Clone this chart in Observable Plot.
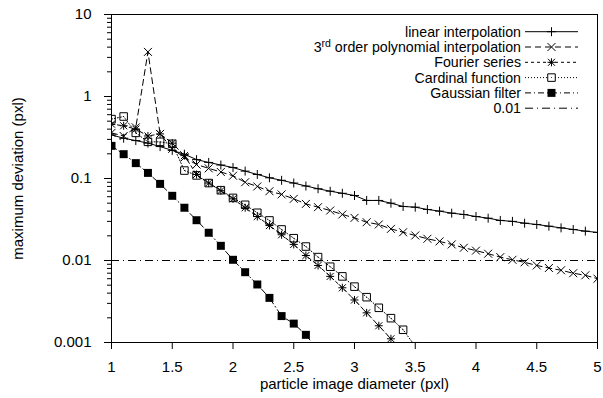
<!DOCTYPE html>
<html>
<head>
<meta charset="utf-8">
<script src="https://cdn.jsdelivr.net/npm/d3@7"></script>
<script src="https://cdn.jsdelivr.net/npm/@observablehq/plot@0.6"></script>
<style>
  html, body { margin: 0; padding: 0; background: #fff; }
  #chart svg { display: block; }
</style>
</head>
<body>
<div id="chart"></div>
<script>
// Particle image diameter (pxl), sampled every 0.1 pxl
const diameter = [1.0, 1.1, 1.2, 1.3, 1.4, 1.5, 1.6, 1.7, 1.8, 1.9,
                  2.0, 2.1, 2.2, 2.3, 2.4, 2.5, 2.6, 2.7, 2.8, 2.9,
                  3.0, 3.1, 3.2, 3.3, 3.4, 3.5, 3.6, 3.7, 3.8, 3.9,
                  4.0, 4.1, 4.2, 4.3, 4.4, 4.5, 4.6, 4.7, 4.8, 4.9, 5.0];

// Maximum deviation (pxl) for each interpolation scheme
const linearInterp = [0.34, 0.31, 0.29, 0.27, 0.245, 0.22, 0.198, 0.17, 0.157, 0.146,
                      0.136, 0.123, 0.112, 0.102, 0.095, 0.088, 0.081, 0.075, 0.070, 0.066,
                      0.062, 0.054, 0.054, 0.050, 0.0456, 0.0447, 0.0419, 0.040, 0.0378, 0.0364,
                      0.0344, 0.0328, 0.0308, 0.030, 0.0285, 0.0275, 0.0262, 0.025, 0.0239, 0.0228, 0.022];

const polyInterp3 = [0.36, 0.33, 0.42, 3.5, 0.35, 0.23, 0.18, 0.148, 0.133, 0.12,
                     0.108, 0.090, 0.080, 0.070, 0.064, 0.0565, 0.049, 0.0447, 0.0407, 0.0364,
                     0.0331, 0.0293, 0.0275, 0.0243, 0.0221, 0.0202, 0.0184, 0.0171, 0.0157, 0.0143,
                     0.0132, 0.0121, 0.011, 0.0102, 0.0095, 0.0087, 0.0081, 0.0076, 0.0070, 0.0066, 0.0060];

const fourierSeries = [0.46, 0.44, 0.40, 0.33, 0.35, 0.27, 0.19, 0.112, 0.088, 0.071,
                       0.0565, 0.044, 0.0344, 0.0267, 0.0206, 0.0157, 0.0115, 0.0087, 0.0064, 0.00465,
                       0.0033, 0.0023, 0.0016, 0.00111, 0.0007];

const cardinalFunction = [0.53, 0.57, 0.36, 0.28, 0.28, 0.265, 0.125, 0.109, 0.088, 0.072,
                          0.058, 0.0478, 0.0382, 0.0308, 0.0239, 0.0187, 0.0148, 0.011, 0.0084, 0.0064,
                          0.0048, 0.00357, 0.00265, 0.00198, 0.00143, 0.0009];

const gaussianFilter = [0.25, 0.198, 0.154, 0.117, 0.086, 0.0615, 0.044, 0.031, 0.0218, 0.0151,
                        0.0102, 0.0072, 0.0051, 0.0035, 0.0021, 0.0017, 0.00124, 0.0008];

const threshold = [0.01];

const seriesNames = ["linear interpolation", "3rd order polynomial interpolation", "Fourier series",
                     "Cardinal function", "Gaussian filter", "0.01"];

const xTicks = [1, 1.5, 2, 2.5, 3, 3.5, 4, 4.5, 5];
const xTickLabels = ["1", "1.5", "2", "2.5", "3", "3.5", "4", "4.5", "5"];
const yTicks = [0.001, 0.01, 0.1, 1, 10];
const yTickLabels = ["0.001", "0.01", "0.1", "1", "10"];
const yMinorTicks = [0.001, 0.01, 0.1, 1].flatMap(d => [2, 3, 4, 5, 6, 7, 8, 9].map(k => k * d));

const xLabel = "particle image diameter (pxl)";
const yLabel = "maximum deviation (pxl)";

const rows = values => values.map((v, i) => ({x: diameter[i], y: v}));

const FONT = "'Liberation Sans', Arial, Helvetica, sans-serif";

// line + symbol styling per scheme
const styles = [
  {data: linearInterp, dash: null, symbols: [{symbol: "plus", r: 3.0}]},
  {data: polyInterp3, dash: "6,4", symbols: [{symbol: "times", r: 3.7}]},
  {data: fourierSeries, dash: "3,3", symbols: [{symbol: "plus", r: 2.7}, {symbol: "times", r: 3.3}]},
  {data: cardinalFunction, dash: "1,2", symbols: [{symbol: "square2", r: 4.8}, {symbol: "circle", r: 0.5, fill: true}]},
  {data: gaussianFilter, dash: "6,3,1,3", symbols: [{symbol: "square", r: 4.5, fill: true}]}
];

const marks = [];
marks.push(Plot.ruleY(threshold, {stroke: "black", strokeWidth: 1, strokeDasharray: "8,4,1,4"}));
for (const s of styles) {
  const d = rows(s.data);
  marks.push(Plot.line(d, {x: "x", y: "y", stroke: "black", strokeWidth: 1,
                           strokeDasharray: s.dash, clip: true}));
  for (const m of s.symbols) {
    marks.push(Plot.dot(d, {x: "x", y: "y", symbol: m.symbol, r: m.r,
                            fill: m.fill ? "black" : "none", stroke: m.fill ? "none" : "black",
                            strokeWidth: 1, clip: true}));
  }
}

marks.push(
  Plot.axisX({ticks: xTicks, tickSize: 7, tickPadding: 12,
              tickFormat: d => xTickLabels[xTicks.indexOf(d)], label: null}),
  Plot.axisY({ticks: yTicks, tickSize: 7, tickPadding: 13,
              tickFormat: d => yTickLabels[yTicks.indexOf(d)], label: null}),
  Plot.axisY({ticks: yMinorTicks, tickSize: 4, tickFormat: () => "", label: null}),
  Plot.frame({stroke: "black", strokeWidth: 1}),
  Plot.text([xLabel], {frameAnchor: "bottom", dy: 42, textAnchor: "middle", lineAnchor: "middle"}),
  Plot.text([yLabel], {frameAnchor: "left", dx: -93, rotate: -90, textAnchor: "middle", lineAnchor: "middle"})
);

const chart = Plot.plot({
  width: 603,
  height: 398,
  marginLeft: 111,
  marginRight: 6,
  marginTop: 14,
  marginBottom: 56,
  style: {fontFamily: FONT, fontSize: "15px", background: "white", color: "black", overflow: "visible"},
  x: {domain: [1, 5], label: null},
  y: {type: "log", domain: [0.001, 10], label: null},
  marks
});

// legend in the upper right corner of the frame
const svg = d3.select(chart);
const legend = svg.append("g").attr("font-family", FONT).attr("font-size", 14.2);
const legendSymbols = [
  [{type: d3.symbolPlus, r: 3.0}],
  [{type: d3.symbolTimes, r: 3.7}],
  [{type: d3.symbolPlus, r: 2.7}, {type: d3.symbolTimes, r: 3.3}],
  [{type: d3.symbolSquare2, r: 4.8}, {type: d3.symbolCircle, r: 0.5, fill: true}],
  [{type: d3.symbolSquare, r: 4.5, fill: true}],
  []
];
const legendDash = [null, "6,4", "3,3", "1,2", "6,3,1,3", "8,4,1,4"];
seriesNames.forEach((name, i) => {
  const y = 31.7 + i * 15.3;
  const g = legend.append("g").attr("transform", `translate(0,${y})`);
  const t = g.append("text").attr("x", 521).attr("y", 0).attr("dy", "0.35em").attr("text-anchor", "end");
  if (i === 1) {
    t.append("tspan").text("3");
    t.append("tspan").attr("font-size", 10.5).attr("baseline-shift", "45%").text("rd");
    t.append("tspan").text(" order polynomial interpolation");
  } else {
    t.text(name);
  }
  g.append("line").attr("x1", 525).attr("x2", 578).attr("y1", 0).attr("y2", 0)
    .attr("stroke", "black").attr("stroke-width", 1)
    .attr("stroke-dasharray", legendDash[i]);
  for (const s of legendSymbols[i]) {
    g.append("path").attr("transform", "translate(551.5,0)")
      .attr("d", d3.symbol(s.type, s.r * s.r * Math.PI)())
      .attr("fill", s.fill ? "black" : "white")
      .attr("stroke", s.fill ? "none" : "black").attr("stroke-width", 1);
  }
});

document.getElementById("chart").append(chart);
</script>
</body>
</html>
